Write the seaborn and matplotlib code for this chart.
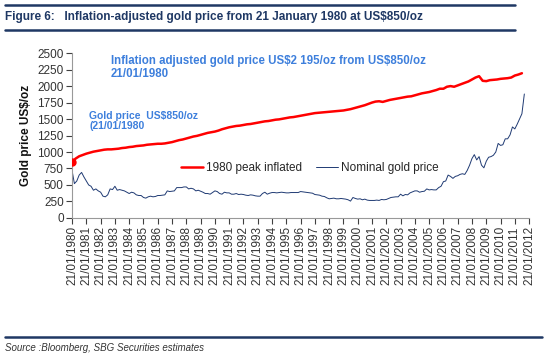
import pandas as pd
import numpy as np
import seaborn as sns
import matplotlib.pyplot as plt
import matplotlib.dates as mdates

# nominal gold price, every two months from Jan 1980 (US$/oz)
nominal_values = [
    720, 520, 560, 650, 690, 620,
    560, 500, 480, 420, 440, 410,
    390, 330, 320, 350, 440, 430,
    480, 420, 430, 420, 410, 390,
    370, 390, 380, 350, 340, 340,
    310, 300, 320, 330, 320, 325,
    340, 340, 345, 350, 410, 400,
    405, 410, 460, 460, 460, 470,
    470, 440, 450, 440, 410, 420,
    405, 390, 370, 370, 360, 385,
    410, 400, 370, 360, 390, 380,
    380, 360, 360, 370, 355, 360,
    355, 345, 340, 350, 345, 335,
    330, 330, 370, 390, 360, 375,
    385, 385, 380, 385, 390, 385,
    380, 380, 385, 385, 385, 385,
    400, 395, 390, 385, 380, 375,
    355, 350, 345, 330, 325, 305,
    290, 295, 300, 290, 290, 295,
    290, 285, 275, 255, 310, 295,
    285, 290, 275, 285, 270, 265,
    265, 265, 270, 265, 280, 275,
    280, 295, 310, 315, 320, 320,
    360, 335, 355, 350, 380, 395,
    410, 410, 390, 400, 405, 440,
    425, 430, 425, 425, 460, 480,
    550, 560, 650, 630, 600, 630,
    640, 660, 670, 660, 720, 800,
    900, 960, 880, 930, 800, 760,
    860, 920, 930, 950, 1000, 1130,
    1100, 1110, 1200, 1200, 1260, 1380,
    1350, 1420, 1500, 1580, 1880,
]

# 1980 peak price inflated, quarterly from Jan 1980 (US$/oz)
inflated_values = [
    850, 900, 935, 955,
    975, 990, 1005, 1015,
    1025, 1035, 1040, 1040,
    1045, 1050, 1060, 1065,
    1075, 1080, 1090, 1095,
    1100, 1110, 1115, 1120,
    1125, 1125, 1130, 1140,
    1150, 1165, 1180, 1190,
    1205, 1220, 1235, 1245,
    1260, 1275, 1290, 1300,
    1310, 1325, 1345, 1360,
    1375, 1385, 1395, 1400,
    1410, 1420, 1425, 1435,
    1445, 1455, 1465, 1470,
    1480, 1490, 1495, 1505,
    1515, 1525, 1530, 1540,
    1550, 1560, 1570, 1580,
    1590, 1595, 1600, 1605,
    1610, 1615, 1620, 1625,
    1630, 1640, 1650, 1665,
    1680, 1695, 1710, 1730,
    1750, 1765, 1770, 1760,
    1775, 1790, 1800, 1810,
    1820, 1830, 1840, 1845,
    1860, 1875, 1890, 1900,
    1910, 1925, 1940, 1960,
    1960, 1990, 2000, 1990,
    2010, 2030, 2050, 2070,
    2100, 2130, 2150, 2080,
    2075, 2090, 2095, 2100,
    2110, 2115, 2120, 2130,
    2160, 2175, 2195,
]

tick_years = list(range(1980, 2013))
y_ticks = list(range(0, 2501, 250))

nominal_dates = pd.date_range("1980-01-01", periods=len(nominal_values), freq="2MS") + pd.Timedelta(days=20)
inflated_dates = pd.date_range("1980-01-01", periods=len(inflated_values), freq="QS") + pd.Timedelta(days=20)

nominal = pd.DataFrame({"date": nominal_dates, "price": nominal_values})
inflated = pd.DataFrame({"date": inflated_dates, "price": inflated_values})

sns.set_theme(style="white")
plt.rcParams["font.family"] = ["Liberation Sans", "DejaVu Sans"]

navy = "#1f3a73"
red = "#ff0000"
label_blue = "#3d7fdc"
grey_txt = "#404040"

fig = plt.figure(figsize=(5.5, 3.59), dpi=100)
ax = fig.add_axes([0.131, 0.393, 0.831, 0.459])

sns.lineplot(data=inflated, x="date", y="price", color=red, linewidth=1.8,
             label="1980 peak inflated", ax=ax)
sns.lineplot(data=nominal, x="date", y="price", color=navy, linewidth=0.7,
             label="Nominal gold price", ax=ax)
ax.plot(inflated["date"].iloc[0], inflated["price"].iloc[0], "o", color=red, markersize=5, zorder=5)

ticks = [pd.Timestamp(f"{y}-01-21") for y in tick_years]
ax.set_xticks(ticks)
ax.xaxis.set_major_formatter(mdates.DateFormatter("%d/%m/%Y"))
ax.set_xlim(ticks[0], ticks[-1])
ax.set_ylim(0, 2500)
ax.set_yticks(y_ticks)
ax.tick_params(axis="x", rotation=90, labelsize=8.5, colors=grey_txt, length=4, width=0.8,
               direction="out", bottom=True, pad=2)
ax.tick_params(axis="y", labelsize=8.5, colors=grey_txt, length=4, width=0.8,
               direction="out", left=True, pad=2)
for lab in ax.get_xticklabels() + ax.get_yticklabels():
    lab.set_color("#333333")
ax.set_xlabel("")
ax.set_ylabel("Gold price US\\$/oz", fontsize=8.5, fontweight="bold", color="#111111", labelpad=4)
for s in ["top", "right"]:
    ax.spines[s].set_visible(False)
for s in ["left", "bottom"]:
    ax.spines[s].set_color("#999999")
    ax.spines[s].set_linewidth(0.8)

ax.legend(loc="center", bbox_to_anchor=(0.52, 0.3), ncol=2, frameon=False, fontsize=8.5,
          handlelength=1.9, columnspacing=1.2, handletextpad=0.2)

ax.text(pd.Timestamp("1982-10-01"), 2280, "Inflation adjusted gold price US\\$2 195/oz from US\\$850/oz\n21/01/1980",
        fontsize=8.3, fontweight="bold", color=label_blue, va="center", linespacing=1.1)
ax.text(pd.Timestamp("1981-04-01"), 1470, "Gold price  US\\$850/oz\n(21/01/1980",
        fontsize=7.5, fontweight="bold", color=label_blue, va="center", linespacing=1.1)

# page furniture
fig.text(0.009, 0.952, "Figure 6:   Inflation-adjusted gold price from 21 January 1980 at US\\$850/oz",
         fontsize=8.5, fontweight="bold", color="#1f3864", va="center")
fig.add_artist(plt.Line2D([0.009, 0.937], [0.986, 0.986], color="#1f3864", linewidth=1.8))
fig.add_artist(plt.Line2D([0.009, 0.937], [0.916, 0.916], color="#1f3864", linewidth=1.8))
fig.add_artist(plt.Line2D([0.009, 0.985], [0.061, 0.061], color="#1f3864", linewidth=1.8))
fig.text(0.009, 0.031, "Source :Bloomberg, SBG Securities estimates",
         fontsize=7, style="italic", color="#333333", va="center")

fig.savefig("out.png", dpi=100)
